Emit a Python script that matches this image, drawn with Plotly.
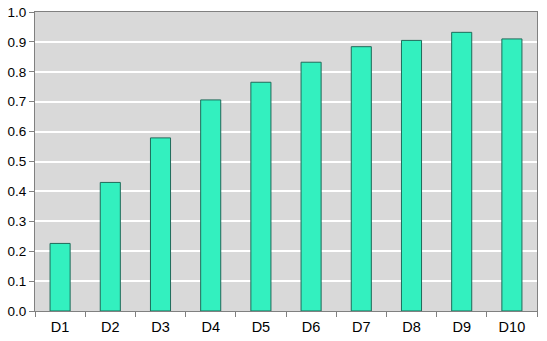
import plotly.graph_objects as go

categories = ["D1", "D2", "D3", "D4", "D5", "D6", "D7", "D8", "D9", "D10"]
values = [0.226, 0.430, 0.579, 0.706, 0.765, 0.832, 0.884, 0.905, 0.932, 0.910]

fig = go.Figure(go.Bar(
    x=categories, y=values,
    marker=dict(color="#33f0bf", line=dict(color="#1f6b5a", width=1)),
))
fig.update_layout(
    width=547, height=341,
    margin=dict(l=35, r=10, t=12, b=30, autoexpand=False),
    paper_bgcolor="white", plot_bgcolor="#d9d9d9",
    bargap=0.6, showlegend=False,
    font=dict(family="Liberation Sans, Arial, sans-serif", size=14, color="black"),
)
fig.update_xaxes(
    showline=True, linecolor="#808080", linewidth=1, mirror=True,
    ticks="outside", ticklen=5, tickcolor="#808080", tickson="boundaries",
    showgrid=False, ticklabelstandoff=3, tickfont=dict(size=14.5),
)
fig.update_yaxes(
    range=[0, 1], dtick=0.1, tickformat=".1f",
    showline=True, linecolor="#808080", linewidth=1, mirror=True,
    ticks="outside", ticklen=5, tickcolor="#808080",
    showgrid=True, gridcolor="white", gridwidth=2, zeroline=False,
    tickfont=dict(size=13.5),
)
fig.write_html("out.html")
